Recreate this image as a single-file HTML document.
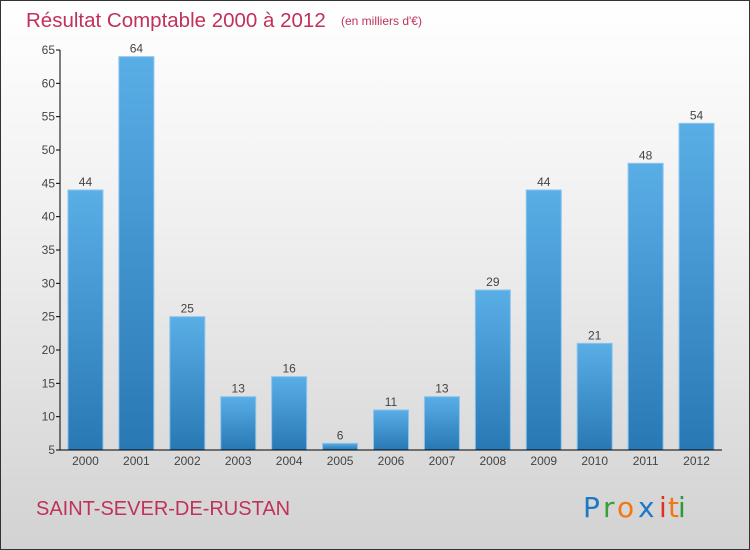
<!DOCTYPE html>
<html><head><meta charset="utf-8">
<style>
body{margin:0;}
#wrap{position:relative;width:750px;height:550px;box-sizing:border-box;border:1px solid #333;background:linear-gradient(#ffffff 0%,#f0f0f0 40%,#d2d2d2 100%);overflow:hidden;font-family:"Liberation Sans",sans-serif;}
</style></head>
<body>
<div id="wrap">
<svg id="chart" width="750" height="550" style="position:absolute;left:-1px;top:-1px">
<defs>
<linearGradient id="bg" x1="0" y1="0" x2="0" y2="1">
<stop offset="0" stop-color="#5aaee6"/><stop offset="1" stop-color="#2878b4"/>
</linearGradient>
</defs>
<text x="26" y="27" font-size="20.5" fill="#c0325a">Résultat Comptable 2000 à 2012</text>
<text x="341" y="25" font-size="12" fill="#c0325a">(en milliers d'€)</text>
<text x="36" y="515" font-size="20" fill="#c0325a">SAINT-SEVER-DE-RUSTAN</text>
<g font-size="28" font-family="'DejaVu Sans',sans-serif">
<text x="583" y="517" fill="#1e78c8">P</text><text x="603" y="517" fill="#3aa03a">r</text><text x="617" y="517" fill="#f07814">o</text><text x="638" y="517" fill="#1e78c8">x</text><text x="659" y="517" fill="#e03020">i</text><text x="668" y="517" fill="#f07814">t</text><text x="678" y="517" fill="#2a9a3a">i</text>
</g>
</svg>
</div>
<script>
const years=["2000","2001","2002","2003","2004","2005","2006","2007","2008","2009","2010","2011","2012"];
const values=[44,64,25,13,16,6,11,13,29,44,21,48,54];
const yTicks=[5,10,15,20,25,30,35,40,45,50,55,60,65];
const svg=document.getElementById('chart');
const NS='http://www.w3.org/2000/svg';
const yMin=5,yMax=65,y0=450,y1=50,xL=60,xR=722;
const yS=v=>y0-(v-yMin)/(yMax-yMin)*(y0-y1);
const step=(xR-xL)/years.length;
const xC=i=>xL+step*(i+0.5);
function mk(t,a){const e=document.createElementNS(NS,t);for(const k in a)e.setAttribute(k,a[k]);svg.appendChild(e);return e;}
yTicks.forEach(t=>{
 const l=mk('line',{x1:xL-4,x2:xL,y1:yS(t),y2:yS(t),stroke:'#000'});
 
 
 const tx=mk('text',{x:xL-5,y:yS(t)+4,'text-anchor':'end','font-size':'12',fill:'#444'});
 tx.textContent=t;
 
 
});
years.forEach((yr,i)=>{
 const w=35,x=xC(i)-w/2,top=yS(values[i]);
 const r=mk('rect',{x:x,y:top,width:w,height:y0-top,fill:'url(#bg)',stroke:'#8cc4ee','stroke-width':'1'});
 
 
 const v=mk('text',{x:xC(i),y:top-4,'text-anchor':'middle','font-size':'12',fill:'#444'});
 v.textContent=values[i];
 
 
 const xl=mk('text',{x:xC(i),y:y0+15,'text-anchor':'middle','font-size':'12',fill:'#444'});
 xl.textContent=yr;
 
 
});
const ya=mk('line',{x1:xL,x2:xL,y1:y1,y2:y0,stroke:'#000'});


const xa=mk('line',{x1:xL,x2:xR,y1:y0,y2:y0,stroke:'#000'});


</script>
</body></html>
